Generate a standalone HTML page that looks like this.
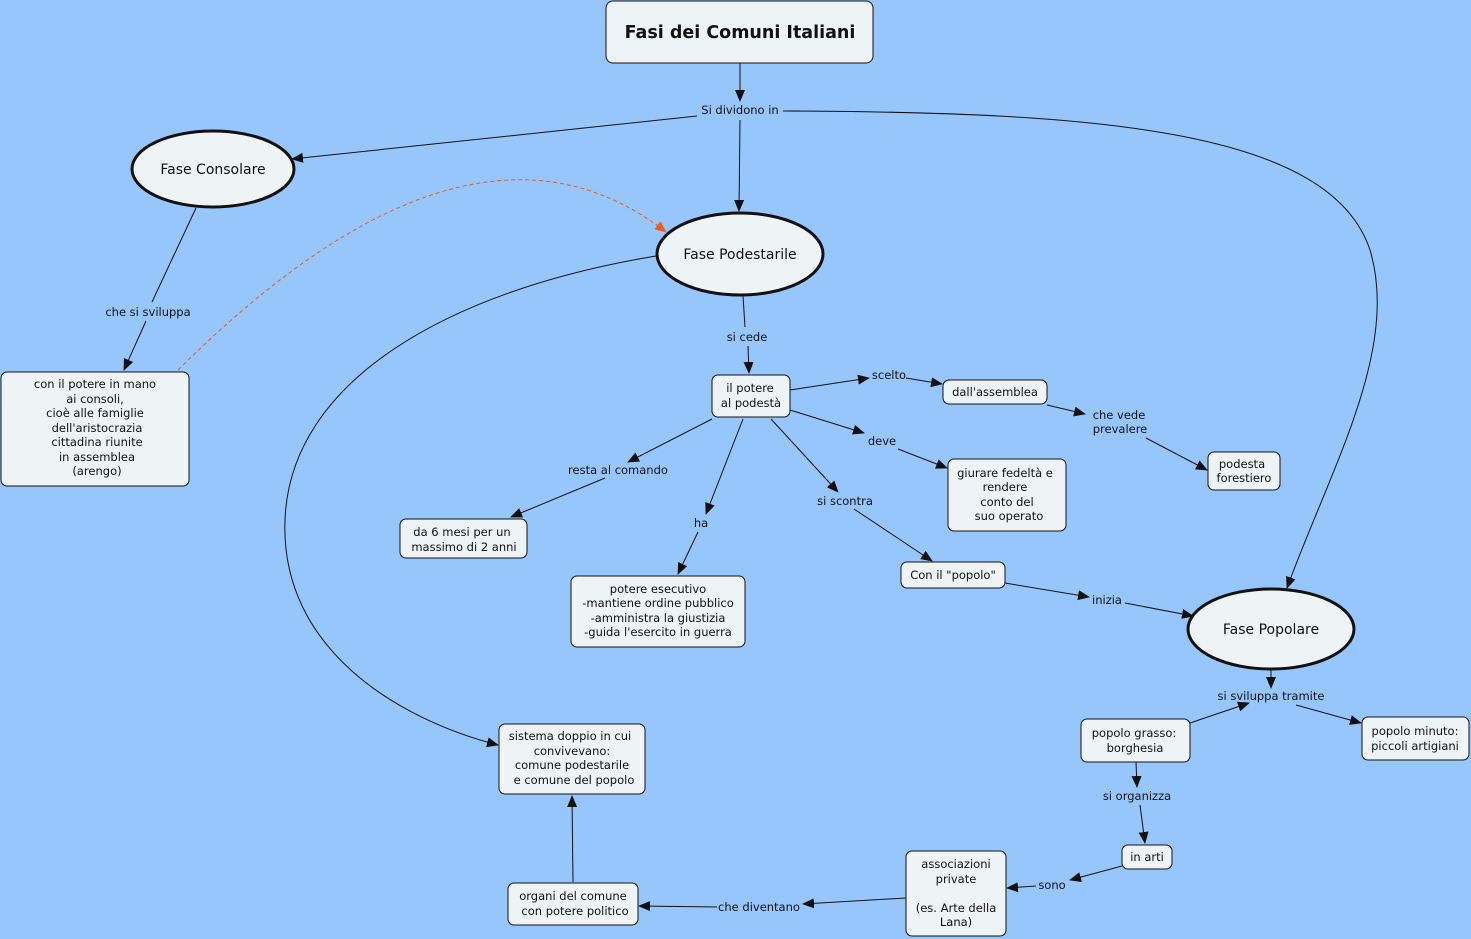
<!DOCTYPE html>
<html><head><meta charset="utf-8"><style>
html,body{margin:0;padding:0;background:#96c6fb;}
svg{display:block;}
text{font-family:"DejaVu Sans","Liberation Sans",sans-serif;font-size:11.5px;fill:#111;text-anchor:middle;}
.n{fill:#eef3f6;stroke:#111;stroke-width:1;}
.e{fill:#eef3f6;stroke:#111;stroke-width:3;}
.l{fill:none;stroke:#111;stroke-width:1;}
</style></head><body>
<svg width="1471" height="939" viewBox="0 0 1471 939" xmlns="http://www.w3.org/2000/svg">
<defs>
<marker id="a" markerWidth="12" markerHeight="10" refX="11" refY="5" orient="auto" markerUnits="userSpaceOnUse"><path d="M0,0 L12,5 L0,10 z" fill="#111"/></marker>
<marker id="o" markerWidth="12" markerHeight="10" refX="11" refY="5" orient="auto" markerUnits="userSpaceOnUse"><path d="M0,0 L12,5 L0,10 z" fill="#e8601c"/></marker>
</defs>
<rect width="1471" height="939" fill="#96c6fb"/>
<!-- lines -->
<g class="l">
<line x1="740" y1="63" x2="740" y2="101" marker-end="url(#a)"/>
<line x1="697" y1="116" x2="292" y2="159" marker-end="url(#a)"/>
<line x1="740" y1="120" x2="739" y2="211" marker-end="url(#a)"/>
<line x1="783" y1="111" x2="800" y2="111"/>
<path d="M783,111 C1100,112 1330,130 1370,250 C1400,350 1330,470 1287,588" marker-end="url(#a)"/>
<line x1="196" y1="208" x2="152" y2="302"/>
<line x1="146" y1="321" x2="124" y2="370" marker-end="url(#a)"/>
<path d="M178,370 Q470,80 666,232" stroke="#e8601c" stroke-dasharray="4,3" marker-end="url(#o)"/>
<line x1="743" y1="296" x2="745" y2="327"/>
<line x1="748" y1="346" x2="749" y2="373" marker-end="url(#a)"/>
<line x1="790" y1="390" x2="869" y2="378" marker-end="url(#a)"/>
<line x1="906" y1="378" x2="942" y2="384" marker-end="url(#a)"/>
<line x1="1047" y1="405" x2="1085" y2="414" marker-end="url(#a)"/>
<line x1="1146" y1="438" x2="1207" y2="470" marker-end="url(#a)"/>
<line x1="790" y1="410" x2="864" y2="433" marker-end="url(#a)"/>
<line x1="898" y1="449" x2="947" y2="468" marker-end="url(#a)"/>
<line x1="712" y1="419" x2="628" y2="462" marker-end="url(#a)"/>
<line x1="605" y1="478" x2="511" y2="517" marker-end="url(#a)"/>
<line x1="743" y1="419" x2="706" y2="514" marker-end="url(#a)"/>
<line x1="698" y1="532" x2="678" y2="574" marker-end="url(#a)"/>
<line x1="771" y1="419" x2="838" y2="492" marker-end="url(#a)"/>
<line x1="854" y1="509" x2="932" y2="561" marker-end="url(#a)"/>
<line x1="1005" y1="583" x2="1089" y2="597" marker-end="url(#a)"/>
<line x1="1125" y1="603" x2="1193" y2="616" marker-end="url(#a)"/>
<line x1="1271" y1="670" x2="1271" y2="688" marker-end="url(#a)"/>
<line x1="1296" y1="705" x2="1361" y2="723" marker-end="url(#a)"/>
<line x1="1190" y1="723" x2="1249" y2="703" marker-end="url(#a)"/>
<line x1="1136" y1="762" x2="1137" y2="787" marker-end="url(#a)"/>
<line x1="1140" y1="805" x2="1145" y2="843" marker-end="url(#a)"/>
<line x1="1122" y1="866" x2="1070" y2="880" marker-end="url(#a)"/>
<line x1="1036" y1="886" x2="1007" y2="888" marker-end="url(#a)"/>
<line x1="906" y1="898" x2="803" y2="904" marker-end="url(#a)"/>
<line x1="717" y1="907" x2="639" y2="906" marker-end="url(#a)"/>
<line x1="573" y1="882" x2="572" y2="796" marker-end="url(#a)"/>
<path d="M656,256 C450,290 290,380 285,520 C280,650 400,720 498,745" marker-end="url(#a)"/>
</g>
<!-- nodes -->
<rect class="n" x="606" y="1" width="267" height="62" rx="7"/>
<text x="740" y="38" style="font-size:17.5px;font-weight:bold">Fasi dei Comuni Italiani</text>
<ellipse class="e" cx="213" cy="169" rx="81" ry="38"/>
<text x="213" y="174" style="font-size:14px">Fase Consolare</text>
<ellipse class="e" cx="740" cy="254" rx="83" ry="41"/>
<text x="740" y="259" style="font-size:14px">Fase Podestarile</text>
<ellipse class="e" cx="1271" cy="629" rx="83" ry="40"/>
<text x="1271" y="634" style="font-size:14px">Fase Popolare</text>

<rect class="n" x="1" y="372" width="188" height="114" rx="6"/>
<text x="95" y="388">con il potere in mano</text><text x="95" y="403">ai consoli,</text><text x="95" y="417">cioè alle famiglie</text><text x="97" y="432">dell'aristocrazia</text><text x="97" y="446">cittadina riunite</text><text x="97" y="461">in assemblea</text><text x="97" y="475">(arengo)</text>

<rect class="n" x="712" y="375" width="78" height="42" rx="6"/>
<text x="750" y="392">il potere</text><text x="751" y="407">al podestà</text>
<rect class="n" x="943" y="380" width="104" height="24" rx="6"/>
<text x="995" y="396">dall'assemblea</text>
<rect class="n" x="1208" y="452" width="72" height="38" rx="6"/>
<text x="1242" y="468">podesta</text><text x="1244" y="482">forestiero</text>
<rect class="n" x="948" y="459" width="118" height="72" rx="6"/>
<text x="1005" y="477">giurare fedeltà e</text><text x="1005" y="491">rendere</text><text x="1007" y="506">conto del</text><text x="1009" y="520">suo operato</text>
<rect class="n" x="400" y="519" width="127" height="39" rx="6"/>
<text x="462" y="536">da 6 mesi per un</text><text x="464" y="551">massimo di 2 anni</text>
<rect class="n" x="571" y="576" width="174" height="71" rx="6"/>
<text x="658" y="593">potere esecutivo</text><text x="658" y="607">-mantiene ordine pubblico</text><text x="658" y="622">-amministra la giustizia</text><text x="658" y="636">-guida l'esercito in guerra</text>
<rect class="n" x="901" y="562" width="104" height="26" rx="6"/>
<text x="953" y="579">Con il "popolo"</text>
<rect class="n" x="499" y="724" width="146" height="70" rx="6"/>
<text x="570" y="740">sistema doppio in cui</text><text x="572" y="755">convivevano:</text><text x="572" y="769">comune podestarile</text><text x="574" y="784">e comune del popolo</text>
<rect class="n" x="1081" y="719" width="109" height="43" rx="6"/>
<text x="1134" y="737">popolo grasso:</text><text x="1135" y="752">borghesia</text>
<rect class="n" x="1362" y="717" width="107" height="43" rx="6"/>
<text x="1415" y="735">popolo minuto:</text><text x="1415" y="750">piccoli artigiani</text>
<rect class="n" x="1122" y="845" width="50" height="24" rx="6"/>
<text x="1147" y="861">in arti</text>
<rect class="n" x="906" y="851" width="100" height="85" rx="6"/>
<text x="956" y="868">associazioni</text><text x="956" y="883">private</text><text x="956" y="912">(es. Arte della</text><text x="956" y="926">Lana)</text>
<rect class="n" x="508" y="883" width="130" height="42" rx="6"/>
<text x="573" y="900">organi del comune</text><text x="575" y="915">con potere politico</text>

<!-- link labels -->
<g>
<rect x="697" y="102" width="86" height="16" fill="#96c6fb"/>
<text x="740" y="114">Si dividono in</text>
<text x="148" y="316">che si sviluppa</text>
<text x="747" y="341">si cede</text>
<text x="889" y="379">scelto</text>
<text x="1119" y="419">che vede</text><text x="1120" y="433">prevalere</text>
<text x="882" y="445">deve</text>
<text x="618" y="474">resta al comando</text>
<text x="701" y="527">ha</text>
<text x="845" y="505">si scontra</text>
<text x="1107" y="604">inizia</text>
<text x="1271" y="700">si sviluppa tramite</text>
<text x="1137" y="800">si organizza</text>
<text x="1052" y="889">sono</text>
<text x="759" y="911">che diventano</text>
</g>
</svg>
</body></html>
